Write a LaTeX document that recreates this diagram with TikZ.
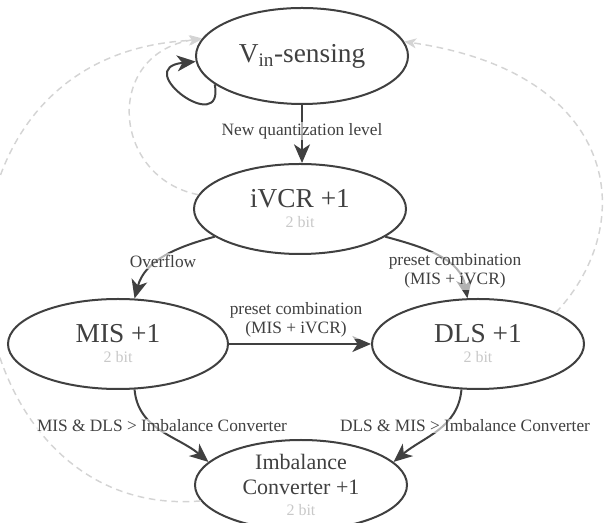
\documentclass[tikz,border=0pt]{standalone}
\usepackage{fontspec}
\setmainfont{Liberation Serif}
\usetikzlibrary{arrows.meta,shapes.geometric}

\definecolor{edgegray}{HTML}{404040}
\definecolor{bitgray}{HTML}{C8C8C8}
\definecolor{backgray}{HTML}{D4D4D4}

% small grey second line of a state
\newcommand{\twobit}[1][-7pt]{\\[#1]{\fontsize{12}{12}\selectfont\color{bitgray}2 bit}}

\begin{document}
\begin{tikzpicture}[x=0.75pt,y=0.75pt,
  state/.style={ellipse,draw=edgegray,line width=1.5pt,text=edgegray,
    minimum width=159pt,minimum height=67.5pt,inner sep=0pt,align=center,
    font=\fontsize{20.5}{22}\selectfont},
  trans/.style={draw=edgegray,line width=1.5pt,
    -{Stealth[length=14pt,width=12pt,inset=4pt]}},
  back/.style={draw=backgray,line width=1.1pt,dash pattern=on 5pt off 3.5pt,
    -{Stealth[length=9pt,width=7.5pt,inset=2.5pt]}},
  lbl/.style={text=edgegray,font=\fontsize{13}{14.5}\selectfont,align=center,
    fill=white,fill opacity=0.6,text opacity=1,inner sep=1pt}]

\useasboundingbox (0,0) rectangle (609,523);
\clip (0,0) rectangle (609,523);

% ============================================================
% STATES
% ============================================================

\node[state,minimum height=72pt] (vin) at (302,467) {V\textsubscript{in}-sensing};
\node[state] (ivcr) at (300,314) {iVCR +1\twobit};
\node[state,minimum width=165pt] (mis) at (118,179) {MIS +1\twobit};
\node[state] (dls)  at (478,179) {DLS +1\twobit};
\node[state,font=\fontsize{16.5}{19}\selectfont] (imb) at (301,38)
  {Imbalance\\Converter +1\twobit[-3pt]};

% ============================================================
% RETURN PATHS (dashed, light)
% ============================================================

\draw[back] (ivcr.172) .. controls (112,345) and (102,470) .. (vin.170);
\draw[back] (imb.189) .. controls (-60,0) and (-110,470) .. (vin.171);
\draw[back] (dls.22) .. controls (640,300) and (620,450) .. (vin.8);

% ============================================================
% TRANSITIONS
% ============================================================

% self loop
\draw[trans] (vin.198) .. controls (225,385) and (130,455) .. (vin.183);

\draw[trans] (vin.south) -- (vin.south |- ivcr.north);
\draw[trans] (ivcr.198) to[out=195,in=75] (mis.70);
\draw[trans] (ivcr.-18) to[out=-15,in=100] (dls.103);
\draw[trans] (mis.east) -- (dls.west);
\draw[trans] (mis.-70) to[out=-85,in=140] (imb.166);
\draw[trans] (dls.-110) to[out=-95,in=40] (imb.14);

% labels
\node[lbl] (lquant) at (302,392) {New quantization level};
\node[lbl] (lover)  at (163,262) {Overflow};
\node[lbl] (lpreR)  at (455,252) {preset combination\\(MIS + iVCR)};
\node[lbl] (lpreM)  at (296,203) {preset combination\\(MIS + iVCR)};
\node[lbl] (limbL)  at (162,97) {MIS \& DLS > Imbalance Converter};
\node[lbl] (limbR)  at (465,97) {DLS \& MIS > Imbalance Converter};

\end{tikzpicture}
\end{document}
